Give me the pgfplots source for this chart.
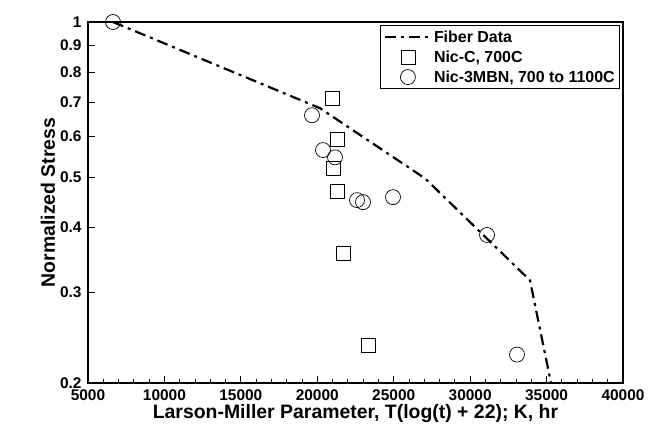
\documentclass[border=0pt]{standalone}
\usepackage{fontspec}
\setmainfont{Liberation Sans}
\usepackage{pgfplots}
\pgfplotsset{compat=1.18}

\begin{document}
\begin{tikzpicture}
\begin{axis}[
  scale only axis, width=535bp, height=361bp,
  xmin=5000, xmax=40000, ymin=0.2, ymax=1,
  ymode=log,
  axis line style={line width=1.2bp},
  xtick={5000,10000,...,40000},
  scaled x ticks=false,
  minor x tick num=4,
  ytick={0.2,0.3,0.4,0.5,0.6,0.7,0.8,0.9,1},
  yticklabels={0.2,0.3,0.4,0.5,0.6,0.7,0.8,0.9,1},
  xtick pos=bottom, ytick pos=left,
  tick align=inside,
  major tick length=7bp, minor tick length=4bp,
  tick style={black, line width=0.8bp},
  /pgf/number format/1000 sep={},
  /pgf/number format/assume math mode=true,
  tick label style={font=\fontsize{15.5}{17}\selectfont\bfseries},
  xticklabel style={yshift=-6bp, inner ysep=1bp},
  yticklabel style={xshift=-3bp},
  xlabel={Larson-Miller Parameter, T(log(t) + 22); K, hr},
  ylabel={Normalized Stress},
  label style={font=\fontsize{19.5}{22}\selectfont\bfseries},
  xlabel style={inner ysep=0bp, yshift=-2bp},
  ylabel style={yshift=-2bp},
  legend style={at={(0.995,0.992)}, anchor=north east, draw=black,
    line width=1.2bp, font=\fontsize{16}{18}\selectfont\bfseries,
    row sep=3bp, inner sep=3bp},
  legend cell align=left,
  legend image code/.code={\draw[mark repeat=2,mark phase=2,#1]
    plot coordinates {(0bp,0bp)(23bp,0bp)(46bp,0bp)};},
]
\coordinate (sw) at (rel axis cs:0,0);
\coordinate (ne) at (rel axis cs:1,1);

% fibre data, dash-dot
\addplot[black, line width=2.2bp, mark=none,
  dash pattern=on 11bp off 5bp on 3bp off 5bp]
  coordinates {
  (6636,1.0)
  (20177,0.681)
  (27047,0.498)
  (33916,0.316)
  (35290,0.2)
};
\addlegendentry{Fiber Data}

% Nic-C, 700C
\addplot[black, only marks, mark=square, mark size=7bp,
  mark options={line width=0.7bp}]
  coordinates {
  (20962,0.712)
  (21290,0.593)
  (21028,0.521)
  (21290,0.471)
  (21682,0.357)
  (23318,0.237)
};
\addlegendentry{Nic-C, 700C}

% Nic-3MBN, 700 to 1100C
\addplot[black, only marks, mark=o, mark size=7.5bp,
  mark options={line width=0.7bp}]
  coordinates {
  (6636,1.0)
  (19654,0.660)
  (20373,0.565)
  (21159,0.547)
  (22598,0.452)
  (22991,0.448)
  (24953,0.458)
  (31103,0.387)
  (33065,0.227)
};
\addlegendentry{Nic-3MBN, 700 to 1100C}
\end{axis}
\pgfresetboundingbox
\path ([shift={(-88bp,-50bp)}]sw) rectangle ([shift={(27bp,22bp)}]ne);
\end{tikzpicture}
\end{document}
